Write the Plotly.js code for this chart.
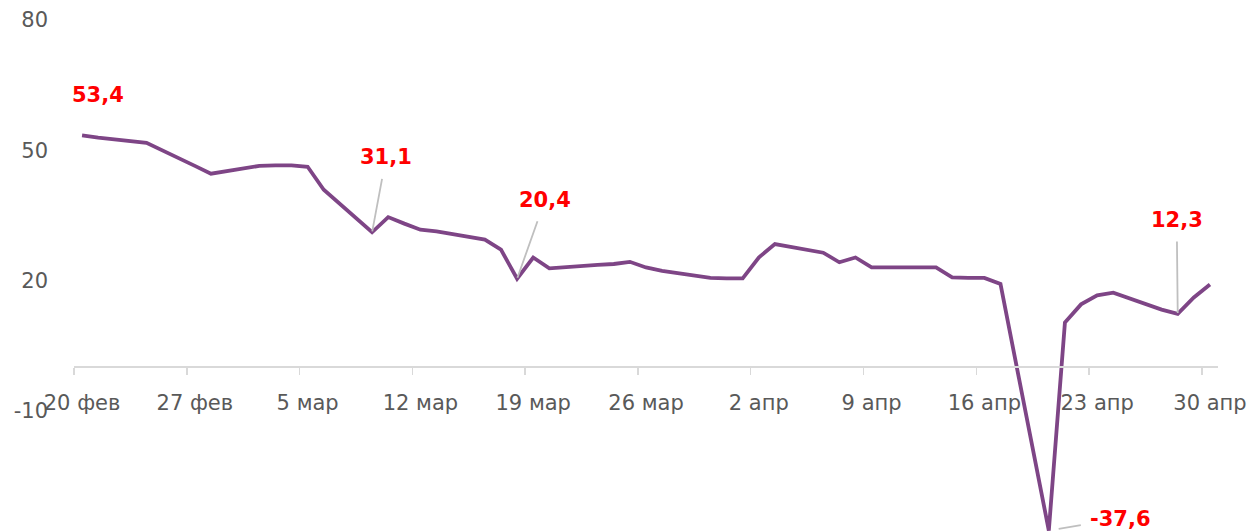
<!DOCTYPE html>
<html>
<head>
<meta charset="utf-8">
<script src="https://cdn.plot.ly/plotly-3.0.1.min.js"></script>
<style>
  html, body { margin: 0; padding: 0; background: #ffffff; }
  #chart { width: 1257px; height: 531px; }
</style>
</head>
<body>
<div id="chart"></div>
<script>
// ---- data ----
const dates = [
  '2020-02-20','2020-02-21','2020-02-24','2020-02-25','2020-02-26','2020-02-27','2020-02-28',
  '2020-03-02','2020-03-03','2020-03-04','2020-03-05','2020-03-06',
  '2020-03-09','2020-03-10','2020-03-11','2020-03-12','2020-03-13',
  '2020-03-16','2020-03-17','2020-03-18','2020-03-19','2020-03-20',
  '2020-03-23','2020-03-24','2020-03-25','2020-03-26','2020-03-27',
  '2020-03-30','2020-03-31','2020-04-01','2020-04-02','2020-04-03',
  '2020-04-06','2020-04-07','2020-04-08','2020-04-09',
  '2020-04-13','2020-04-14','2020-04-15','2020-04-16','2020-04-17',
  '2020-04-20','2020-04-21','2020-04-22','2020-04-23','2020-04-24',
  '2020-04-27','2020-04-28','2020-04-29','2020-04-30'
];
const prices = [
  53.4, 52.9, 51.7, 50.0, 48.2, 46.4, 44.6,
  46.4, 46.5, 46.5, 46.2, 40.9,
  31.1, 34.6, 33.1, 31.7, 31.3,
  29.4, 27.1, 20.4, 25.3, 22.8,
  23.6, 23.8, 24.3, 23.0, 22.2,
  20.6, 20.5, 20.5, 25.3, 28.4,
  26.4, 24.2, 25.3, 23.0,
  23.0, 20.7, 20.6, 20.6, 19.2,
  -37.6, 10.3, 14.5, 16.6, 17.2,
  13.3, 12.3, 16.1, 19.1
];
const labelledDates = ['2020-02-20','2020-03-09','2020-03-18','2020-04-20','2020-04-28'];
const tickDates = ['2020-02-20','2020-02-27','2020-03-05','2020-03-12','2020-03-19','2020-03-26',
                   '2020-04-02','2020-04-09','2020-04-16','2020-04-23','2020-04-30'];
const tickLabels = ['20 фев','27 фев','5 мар','12 мар','19 мар','26 мар',
                    '2 апр','9 апр','16 апр','23 апр','30 апр'];
const yTicks = [-10, 20, 50, 80];
const yTickLabels = ['-10', '20', '50', '80'];

// ---- helpers ----
const mid = d => d + ' 12:00';          // points sit in the middle of the day
const fmt = v => v.toFixed(1).replace('.', ',');
const yRange = [-37.7, 80];

// label placement (pixel offsets from the point): style only
const labelStyle = [
  {arrow: false, dx: 16, dy: -40},
  {arrow: true, dx: 14, dy: -75, standoff: 1},
  {arrow: true, dx: 28, dy: -79, standoff: 1},
  {arrow: true, dx: 72, dy: -12, standoff: 10},
  {arrow: true, dx: -1, dy: -94, standoff: 1}
];

const annotations = labelledDates.map((d, i) => {
  const idx = dates.indexOf(d);
  const v = prices[idx];
  const s = labelStyle[i];
  const a = {
    x: mid(d), y: v, xref: 'x', yref: 'y',
    text: fmt(v),
    font: {family: 'DejaVu Sans', size: 21, color: '#ff0000', weight: 'bold'},
    borderpad: 9
  };
  if (s.arrow) {
    Object.assign(a, {showarrow: true, ax: s.dx, ay: s.dy, arrowhead: 0,
      arrowwidth: 1.8, arrowcolor: '#bfbfbf', standoff: s.standoff});
  } else {
    Object.assign(a, {showarrow: false, xshift: s.dx, yshift: -s.dy});
  }
  return a;
});

const trace = {
  type: 'scatter', mode: 'lines',
  x: dates.map(mid), y: prices,
  line: {color: '#7e4586', width: 3.8, shape: 'linear'},
  hoverinfo: 'skip'
};

const layout = {
  width: 1257, height: 531,
  margin: {l: 73.5, r: 39.4, t: 20, b: 0, pad: 0},
  paper_bgcolor: '#ffffff', plot_bgcolor: '#ffffff',
  showlegend: false,
  hovermode: false,
  xaxis: {
    type: 'date',
    range: ['2020-02-20', '2020-05-01'],
    anchor: 'free',
    position: (0 - yRange[0]) / (yRange[1] - yRange[0]),
    showline: true, linecolor: '#d9d9d9', linewidth: 2,
    showgrid: false, zeroline: false,
    tickmode: 'array', tickvals: tickDates.map(mid), ticktext: tickLabels,
    ticks: '',
    ticklabelstandoff: 16,
    tickfont: {family: 'DejaVu Sans', size: 21, color: '#595959'},
    minor: {tickmode: 'array', tickvals: tickDates, ticks: 'outside',
            ticklen: 7, tickwidth: 1.5, tickcolor: '#d9d9d9', showgrid: false}
  },
  yaxis: {
    range: yRange,
    tickmode: 'array', tickvals: yTicks, ticktext: yTickLabels,
    showgrid: false, zeroline: false, showline: false,
    ticks: '',
    ticklabelstandoff: 25,
    tickfont: {family: 'DejaVu Sans', size: 21, color: '#595959'}
  },
  annotations: annotations
};

Plotly.newPlot('chart', [trace], layout, {displayModeBar: false, staticPlot: true});
</script>
</body>
</html>
